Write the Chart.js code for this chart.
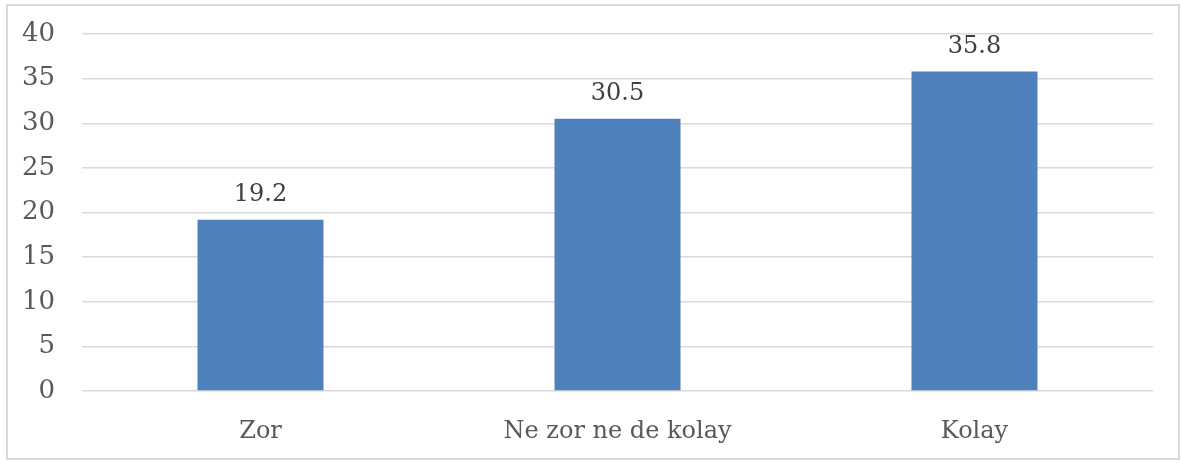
<!DOCTYPE html>
<html>
<head>
<meta charset="utf-8">
<script src="https://cdn.jsdelivr.net/npm/chart.js@4/dist/chart.umd.min.js"></script>
<style>
 body { margin:0; background:#fff; }
 #frame { position:absolute; left:6px; top:4px; width:1174px; height:456px; border:2px solid #d9d9d9; box-sizing:border-box; }
 #wrap { position:absolute; left:0; top:0; width:1181px; height:463px; }
</style>
</head>
<body>
<div id="frame"></div>
<div id="wrap"><canvas id="bar_chart"></canvas></div>
<script>
// data
const categories = ['Zor', 'Ne zor ne de kolay', 'Kolay'];
const values = [19.2, 30.5, 35.8];
const yTicks = [0, 5, 10, 15, 20, 25, 30, 35, 40];

const fontName = "'DejaVu Serif', 'Liberation Serif', serif";

// draws the value above each bar
const valueLabels = {
    id: 'valueLabels',
    afterDatasetsDraw(chart) {
        const ctx = chart.ctx;
        const meta = chart.getDatasetMeta(0);
        ctx.save();
        ctx.font = '24px ' + fontName;
        ctx.fillStyle = '#404040';
        ctx.textAlign = 'center';
        ctx.textBaseline = 'bottom';
        meta.data.forEach(function(bar, i) {
            ctx.fillText(values[i].toFixed(1), bar.x, bar.y - 13);
        });
        ctx.restore();
    }
};

var ctx = document.getElementById('bar_chart').getContext('2d');
var myChart = new Chart(ctx, {
    type: 'bar',
    data: {
        labels: categories,
        datasets: [{
            data: values,
            backgroundColor: '#4f81bd',
            borderWidth: 0,
            barPercentage: 0.353,
            categoryPercentage: 1
        }]
    },
    options: {
        responsive: true,
        maintainAspectRatio: false,
        animation: false,
        layout: { padding: { top: 34, right: 28, left: 0, bottom: 0 } },
        plugins: { legend: { display: false }, tooltip: { enabled: false } },
        scales: {
            x: {
                grid: { display: false, drawTicks: false },
                border: { display: false },
                ticks: { color: '#595959', font: { family: fontName, size: 24 }, padding: 26 },
                afterFit: function(scale) { scale.height = 72; }
            },
            y: {
                min: 0,
                max: 40,
                afterBuildTicks: function(scale) { scale.ticks = yTicks.map(function(v) { return { value: v }; }); },
                grid: { color: '#d9d9d9', lineWidth: 1.5, drawTicks: false },
                border: { display: false },
                ticks: { color: '#595959', font: { family: fontName, size: 26 }, padding: 27 },
                afterFit: function(scale) {
                    scale.width = 82;
                    scale.paddingTop = 0;
                    scale.paddingBottom = 0;
                }
            }
        }
    },
    plugins: [valueLabels]
});
</script>
</body>
</html>
